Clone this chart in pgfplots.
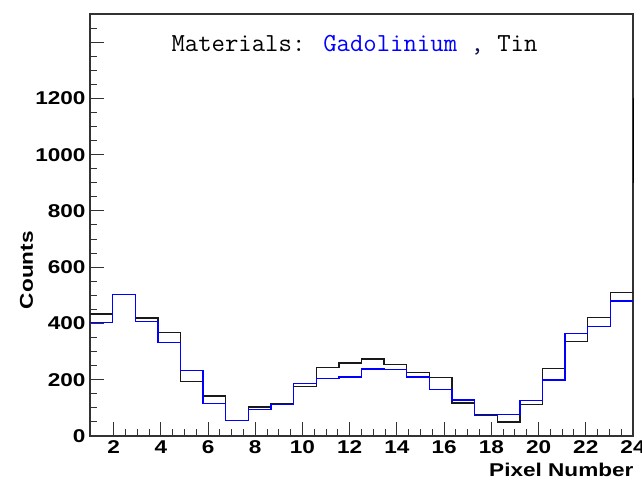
\documentclass[border=0pt]{standalone}
\usepackage{pgfplots}
\pgfplotsset{compat=1.18}
\usepackage{fontspec}
\setmainfont{Liberation Sans}[FakeStretch=1.22]
\definecolor{frame}{RGB}{50,50,50}
\definecolor{navy}{RGB}{20,20,90}
\begin{document}
\begin{tikzpicture}
\path[use as bounding box] (-90pt,-43pt) rectangle (552pt,436pt);
\begin{axis}[
  scale only axis, width=543pt, height=422pt,
  xmin=1, xmax=24, ymin=0, ymax=1500,
  clip=false,
  axis line style={frame, line width=1.2pt},
  xtick={2,4,...,24}, minor x tick num=3,
  ytick={0,200,...,1200}, minor ytick={50,100,...,1500},
  extra y ticks={1400}, extra y tick labels={},
  tick align=inside, xtick pos=lower, ytick pos=left,
  major tick length=14pt, minor tick length=7pt,
  tick style={frame, line width=1pt},
  /pgf/number format/assume math mode=true,
  /pgf/number format/1000 sep={},
  ticklabel style={font=\fontsize{18.5}{20}\selectfont\bfseries},
  xticklabel style={yshift=-1pt},
  yticklabel style={xshift=-1pt},
  xlabel={Pixel Number},
  xlabel style={at={(rel axis cs:1,0)}, anchor=base east, xshift=4pt, yshift=-40pt, font=\fontsize{18.5}{20}\selectfont\bfseries},
  ylabel={Counts},
  ylabel style={at={(axis description cs:-0.105,0.393)}, anchor=base, font=\fontsize{18.5}{20}\selectfont\bfseries},
]
\addplot[const plot, black!90, line width=1.3pt] coordinates {
(1.0000,434) (1.9583,502) (2.9167,419) (3.8750,368) (4.8333,193) (5.7917,142)
(6.7500,55) (7.7083,103) (8.6667,115) (9.6250,176) (10.5833,243) (11.5417,260)
(12.5000,274) (13.4583,253) (14.4167,225) (15.3750,207) (16.3333,117) (17.2917,76)
(18.2500,50) (19.2083,111) (20.1667,240) (21.1250,335) (22.0833,422) (23.0417,510)
(24.0000,510)};
\addplot[const plot, blue, line width=1.3pt] coordinates {
(1.0000,403) (1.9583,502) (2.9167,407) (3.8750,333) (4.8333,232) (5.7917,116)
(6.7500,55) (7.7083,95) (8.6667,113) (9.6250,186) (10.5833,205) (11.5417,210)
(12.5000,238) (13.4583,237) (14.4167,210) (15.3750,166) (16.3333,128) (17.2917,73)
(18.2500,77) (19.2083,125) (20.1667,199) (21.1250,365) (22.0833,389) (23.0417,480)
(24.0000,480)};
\node[anchor=base west, font=\fontsize{26}{28}\selectfont\ttfamily] at (axis description cs:0.1436,0.9107)
  {Materials: \textcolor{blue}{Gadolinium} \textcolor{navy}{,} Tin};
\draw[black, line width=1.6pt] ([xshift=0.6pt]rel axis cs:1,0.801) -- ([xshift=0.6pt]rel axis cs:1,0.5995);
\end{axis}
\end{tikzpicture}
\end{document}
